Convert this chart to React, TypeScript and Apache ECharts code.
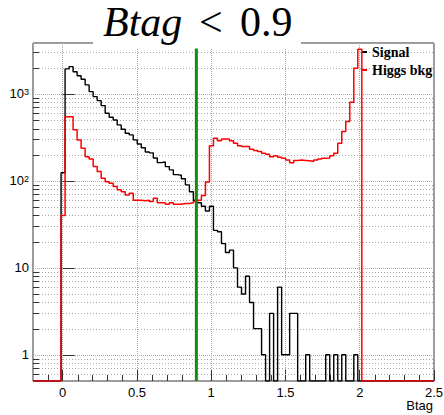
import React, { useEffect, useRef } from 'react';
import * as echarts from 'echarts';

// Histogram binning: 100 bins on [-0.2, 2.5]
const X_MIN = -0.2;
const X_MAX = 2.5;
const N_BINS = 100;
const Y_MIN = 0.5;
const Y_MAX = 3850;
const CUT = 0.9;

// Bin contents (bin 0 .. 99)
const signal = [
  0, 0, 0, 0, 0, 0, 0, 124, 1940, 2060,
  1800, 1620, 1475, 1270, 1063, 931, 838, 734, 600, 540,
  502, 440, 393, 353, 338, 296, 266, 240, 215, 210,
  183, 162, 165, 146, 134, 118, 116, 106, 90, 75,
  60, 56, 51, 45, 51, 27, 26, 19, 15, 16,
  10, 6, 5, 8, 4, 2, 2, 1, 0, 3,
  0, 6, 1, 1, 3, 3, 0, 0, 1, 0,
  0, 0, 0, 1, 0, 1, 0, 1, 0, 0,
  1, 0, 0, 0, 0, 0, 0, 0, 0, 0,
  0, 0, 0, 0, 0, 0, 0, 0, 0, 0,
];

const higgs = [
  0, 0, 0, 0, 0, 0, 0, 40, 548, 548,
  386, 296, 238, 190, 178, 146, 128, 107, 98, 94,
  86, 79, 75, 69, 72, 60, 60, 59, 60, 58,
  63, 56, 56, 54, 56, 54, 54, 55, 55, 56,
  58, 60, 68, 97, 253, 310, 290, 304, 304, 290,
  271, 253, 248, 248, 231, 223, 217, 208, 203, 190,
  194, 187, 182, 174, 162, 172, 174, 172, 170, 167,
  174, 178, 182, 183, 195, 208, 271, 369, 481, 802,
  1975, 3266, 0, 0, 0, 0, 0, 0, 0, 0,
  0, 0, 0, 0, 0, 0, 0, 0, 0, 0,
];

const xMinorTicks = [
  -0.1, 0.1, 0.2, 0.3, 0.4, 0.6, 0.7, 0.8, 0.9, 1.1, 1.2, 1.3, 1.4,
  1.6, 1.7, 1.8, 1.9, 2.1, 2.2, 2.3, 2.4,
];
const yMinorTicks = [
  0.6, 0.7, 0.8, 0.9,
  2, 3, 4, 5, 6, 7, 8, 9,
  20, 30, 40, 50, 60, 70, 80, 90,
  200, 300, 400, 500, 600, 700, 800, 900,
  2000, 3000,
];

const X_TITLE = 'Btag';

const binWidth = (X_MAX - X_MIN) / N_BINS;
const edges = Array.from({ length: N_BINS + 1 }, (_, i) => X_MIN + i * binWidth);

function toSteps(vals: number[]) {
  const pts = vals.map((v, i) => [edges[i], Math.max(v, Y_MIN)]);
  pts.push([edges[N_BINS], Math.max(vals[N_BINS - 1], Y_MIN)]);
  return pts;
}

const GRID_COLOR = '#a8a8a8';
const FRAME_COLOR = '#333';

export default function App() {
  const ref = useRef<HTMLDivElement>(null);

  useEffect(() => {
    if (!ref.current) return;
    const chart = echarts.init(ref.current, undefined, { renderer: 'svg' });

    const titleStyle = {
      fontFamily: 'Liberation Serif',
      fontSize: 42,
      fill: '#000',
      align: 'left',
      textAlign: 'left',
      verticalAlign: 'middle',
      textVerticalAlign: 'middle',
    };

    const option: any = {
      animation: false,
      backgroundColor: '#fff',
      grid: {
        left: 33,
        right: 10,
        top: 43,
        bottom: 34,
        containLabel: false,
        outerBoundsMode: 'none',
        show: true,
        borderColor: FRAME_COLOR,
        borderWidth: 1,
        backgroundColor: 'transparent',
      },
      legend: {
        data: ['Signal', 'Higgs bkg'],
        orient: 'vertical',
        left: 362,
        top: 45,
        icon: 'rect',
        itemWidth: 5,
        itemHeight: 2,
        itemGap: 4,
        padding: 0,
        textStyle: {
          fontFamily: 'Liberation Serif',
          fontWeight: 'bold',
          fontSize: 14,
          color: '#000',
        },
      },
      xAxis: {
        type: 'value',
        min: X_MIN,
        max: X_MAX,
        axisLine: { show: false },
        axisTick: { show: true, inside: true, length: 11, lineStyle: { color: FRAME_COLOR } },
        splitLine: { show: true, lineStyle: { color: GRID_COLOR, type: 'dotted', width: 1 } },
        axisLabel: {
          showMinLabel: false,
          margin: 5,
          fontFamily: 'Liberation Sans',
          fontSize: 13,
          color: '#000',
          formatter: (v: number) => {
            const r = Math.round(v * 2) / 2;
            return Math.abs(v - r) < 1e-9 && v >= -1e-9 ? String(r) : '';
          },
        },
      },
      yAxis: {
        type: 'log',
        logBase: 10,
        min: Y_MIN,
        max: Y_MAX,
        axisLine: { show: false },
        axisTick: { show: true, inside: true, length: 12, lineStyle: { color: FRAME_COLOR } },
        splitLine: { show: true, lineStyle: { color: GRID_COLOR, type: 'dotted', width: 1 } },
        axisLabel: {
          showMinLabel: false,
          showMaxLabel: false,
          margin: 4,
          fontFamily: 'Liberation Sans',
          fontSize: 13,
          color: '#000',
          formatter: (v: number) => {
            const e = Math.round(Math.log10(v));
            if (Math.abs(Math.log10(v) - e) > 1e-6) return '';
            if (e === 0) return '1';
            if (e === 1) return '10';
            return '10{s|' + e + '}';
          },
          rich: {
            s: { fontFamily: 'Liberation Sans', fontSize: 9, color: '#000', verticalAlign: 'top', lineHeight: 9 },
          },
        },
      },
      series: [
        {
          name: 'yMinorGrid',
          type: 'custom',
          silent: true,
          z: 1,
          data: yMinorTicks.map((v) => [X_MIN, v]),
          encode: { x: 0, y: 1 },
          renderItem: (params: any, api: any) => {
            const cs = params.coordSys;
            const p = api.coord([X_MIN, api.value(1)]);
            const y = Math.round(p[1]) + 0.5;
            return {
              type: 'group',
              children: [
                {
                  type: 'line',
                  shape: { x1: cs.x, y1: y, x2: cs.x + cs.width, y2: y },
                  style: { stroke: GRID_COLOR, lineWidth: 1, lineDash: [1, 2] },
                },
                {
                  type: 'line',
                  shape: { x1: cs.x, y1: y, x2: cs.x + 6, y2: y },
                  style: { stroke: FRAME_COLOR, lineWidth: 1 },
                },
              ],
            };
          },
        },
        {
          name: 'xMinorTicks',
          type: 'custom',
          silent: true,
          z: 1,
          data: xMinorTicks.map((v) => [v, Y_MIN]),
          encode: { x: 0, y: 1 },
          renderItem: (params: any, api: any) => {
            const cs = params.coordSys;
            const p = api.coord([api.value(0), Y_MIN]);
            const x = Math.round(p[0]) + 0.5;
            const yb = cs.y + cs.height;
            return {
              type: 'line',
              shape: { x1: x, y1: yb, x2: x, y2: yb - 6 },
              style: { stroke: FRAME_COLOR, lineWidth: 1 },
            };
          },
        },
        {
          name: 'Signal',
          type: 'line',
          step: 'end',
          symbol: 'none',
          z: 3,
          data: toSteps(signal),
          itemStyle: { color: '#000' },
          lineStyle: { color: '#000', width: 1.4 },
        },
        {
          name: 'Higgs bkg',
          type: 'line',
          step: 'end',
          symbol: 'none',
          z: 4,
          data: toSteps(higgs),
          itemStyle: { color: '#ff0000' },
          lineStyle: { color: '#ff0000', width: 1.5 },
        },
        {
          name: 'cut',
          type: 'line',
          symbol: 'none',
          z: 5,
          data: [
            [CUT, Y_MIN],
            [CUT, Y_MAX],
          ],
          lineStyle: { color: '#138c13', width: 3 },
        },
      ],
      graphic: [
        {
          type: 'rect',
          z: 100,
          shape: { x: 93, y: 0, width: 208, height: 48.5 },
          style: { fill: '#fff' },
          silent: true,
        },
        {
          type: 'text',
          z: 101,
          x: 103,
          y: 22,
          style: { ...titleStyle, text: 'Btag', fontStyle: 'italic' },
        },
        {
          type: 'text',
          z: 101,
          x: 199,
          y: 22,
          style: { ...titleStyle, text: '<' },
        },
        {
          type: 'text',
          z: 101,
          x: 240,
          y: 22,
          style: { ...titleStyle, text: '0.9' },
        },
        {
          type: 'text',
          z: 101,
          x: 433,
          y: 405,
          style: {
            text: X_TITLE,
            fontFamily: 'Liberation Sans',
            fontSize: 13,
            fill: '#000',
            align: 'right',
            textAlign: 'right',
            verticalAlign: 'middle',
            textVerticalAlign: 'middle',
          },
        },
      ],
    };

    chart.setOption(option);
    return () => chart.dispose();
  }, []);

  return (
    <div
      ref={ref}
      style={{ position: 'absolute', left: 0, top: 0, width: 444, height: 415, background: '#fff' }}
    />
  );
}
